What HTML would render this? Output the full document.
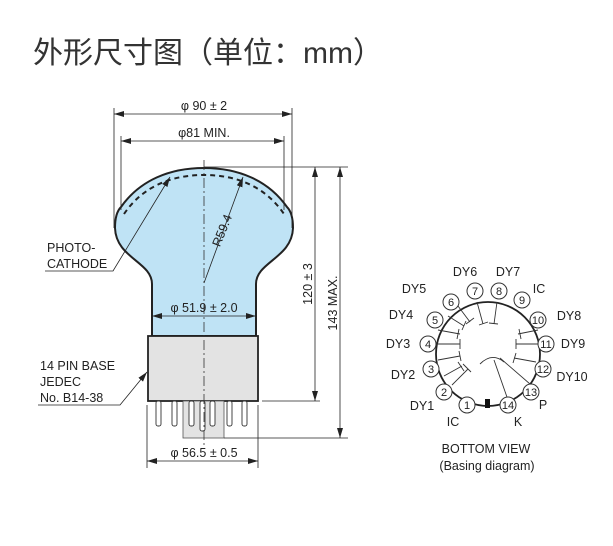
<!DOCTYPE html>
<html><head><meta charset="utf-8"><style>
body{margin:0;background:#fff;}
svg text{font-family:"Liberation Sans",Arial,sans-serif;fill:#222;}
</style></head><body>
<svg width="613" height="541" viewBox="0 0 613 541" xmlns="http://www.w3.org/2000/svg">
<defs>
<marker id="a" viewBox="0 0 10 6" refX="10" refY="3" markerWidth="10" markerHeight="6" orient="auto-start-reverse" markerUnits="userSpaceOnUse"><path d="M0,0 L10,3 L0,6 Z" fill="#222"/></marker>
</defs>
<text x="33" y="63" style="font-family:'Liberation Sans','Noto Sans CJK SC',sans-serif;font-size:30px;fill:#333">外形尺寸图（单位：mm）</text>

<!-- bulb -->
<path d="M152,336 L152,284 C152,262 116,258 115,228 Q115,213 121,207 C140,180 170,168 204,168 C238,168 268,180 287,207 Q293,213 293,228 C292,258 256,262 256,284 L256,336 Z" fill="#bfe3f5" stroke="#222" stroke-width="2"/>
<path d="M124,214 C143,186 172,175 204,175 C236,175 265,186 284,214" fill="none" stroke="#222" stroke-width="2" stroke-dasharray="5,4"/>
<!-- base -->
<rect x="148" y="336" width="110" height="65" fill="#e3e3e3" stroke="#222" stroke-width="1.8"/>
<rect x="183" y="401" width="41" height="37" fill="#e3e3e3" stroke="#555" stroke-width="0.8"/>
<g fill="#fff" stroke="#333" stroke-width="0.9">
<rect x="156" y="401" width="5" height="25" rx="2"/><rect x="172" y="401" width="5" height="25" rx="2"/>
<rect x="189" y="401" width="5" height="25" rx="2"/><rect x="200" y="401" width="5" height="30" rx="2"/>
<rect x="210" y="401" width="5" height="25" rx="2"/><rect x="227" y="401" width="5" height="25" rx="2"/><rect x="242" y="401" width="5" height="25" rx="2"/>
</g>
<line x1="204" y1="160" x2="204" y2="445" stroke="#333" stroke-width="0.8" stroke-dasharray="10,3,2,3"/>

<!-- dims -->
<g stroke="#222" stroke-width="0.8" fill="none">
<line x1="114" y1="108" x2="114" y2="228"/><line x1="292" y1="108" x2="292" y2="228"/>
<line x1="114" y1="114" x2="292" y2="114" marker-start="url(#a)" marker-end="url(#a)"/>
<line x1="121" y1="136" x2="121" y2="210"/><line x1="284" y1="136" x2="284" y2="210"/>
<line x1="121" y1="141" x2="284" y2="141" marker-start="url(#a)" marker-end="url(#a)"/>
<line x1="204" y1="167" x2="348" y2="167"/>
<line x1="262" y1="401" x2="320" y2="401"/>
<line x1="224" y1="438" x2="348" y2="438"/>
<line x1="315" y1="167" x2="315" y2="401" marker-start="url(#a)" marker-end="url(#a)"/>
<line x1="340" y1="167" x2="340" y2="438" marker-start="url(#a)" marker-end="url(#a)"/>
<line x1="152" y1="316" x2="256" y2="316" marker-start="url(#a)" marker-end="url(#a)"/>
<line x1="147" y1="405" x2="147" y2="468"/><line x1="258" y1="405" x2="258" y2="468"/>
<line x1="147" y1="461" x2="258" y2="461" marker-start="url(#a)" marker-end="url(#a)"/>
<line x1="204" y1="283" x2="243" y2="177" marker-end="url(#a)"/>
<polyline points="45,271 113,271 170,177" marker-end="url(#a)"/>
<polyline points="38,405 120,405 147,372" marker-end="url(#a)"/>
</g>
<g font-size="12.5">
<text x="204" y="110" text-anchor="middle">φ 90 ± 2</text>
<text x="204" y="137" text-anchor="middle">φ81 MIN.</text>
<text x="204" y="312" text-anchor="middle">φ 51.9 ± 2.0</text>
<text x="204" y="457" text-anchor="middle">φ 56.5 ± 0.5</text>
<text transform="translate(226,232) rotate(-68)" text-anchor="middle">R59.4</text>
<text transform="translate(312,284) rotate(-90)" text-anchor="middle">120 ± 3</text>
<text transform="translate(337,303) rotate(-90)" text-anchor="middle">143 MAX.</text>
<text x="47" y="252">PHOTO-</text><text x="47" y="268">CATHODE</text>
<text x="40" y="370">14 PIN BASE</text><text x="40" y="386">JEDEC</text><text x="40" y="402">No. B14-38</text>
</g>

<!-- basing diagram -->
<circle cx="488" cy="354" r="52" fill="none" stroke="#222" stroke-width="1.8"/>
<rect x="485" y="399" width="5" height="9" fill="#111"/>
<g stroke="#333" stroke-width="0.9" fill="none">
<path d="M436,344 h24 M460,339 v10"/>
<path d="M438,330 l22,4 M459,329 l-2,10"/>
<path d="M448,316 l16,10 M466,321 l-4,9"/>
<path d="M458,306 l12,16 M474,318 l-8,6"/>
<path d="M477,302 l6,22 M488,322 l-9,3"/>
<path d="M497,302 l-3,22 M498,324 l-9,-1"/>
<path d="M438,360 l22,-4 M459,351 l2,10"/>
<path d="M444,376 l18,-10 M458,362 l6,9"/>
<path d="M452,385 l16,-16 M463,364 l8,8"/>
<path d="M538,330 l-20,4 M519,329 l2,10"/>
<path d="M540,344 h-24 M516,339 v10"/>
<path d="M536,362 l-22,-4 M516,353 l-3,10"/>
<path d="M530,384 l-30,-26"/>
<path d="M508,400 l-14,-40 M480,364 q12,-12 24,-2"/>
</g>
<g fill="#fff" stroke="#333" stroke-width="1">
<circle cx="467" cy="405" r="8"/><circle cx="444" cy="392" r="8"/><circle cx="431" cy="369" r="8"/>
<circle cx="428" cy="344" r="8"/><circle cx="435" cy="320" r="8"/><circle cx="451" cy="302" r="8"/>
<circle cx="475" cy="291" r="8"/><circle cx="499" cy="291" r="8"/><circle cx="522" cy="300" r="8"/>
<circle cx="538" cy="320" r="8"/><circle cx="546" cy="344" r="8"/><circle cx="543" cy="369" r="8"/>
<circle cx="531" cy="392" r="8"/><circle cx="508" cy="405" r="8"/>
</g>
<g font-size="11" text-anchor="middle">
<text x="467" y="409">1</text><text x="444" y="396">2</text><text x="431" y="373">3</text>
<text x="428" y="348">4</text><text x="435" y="324">5</text><text x="451" y="306">6</text>
<text x="475" y="295">7</text><text x="499" y="295">8</text><text x="522" y="304">9</text>
<text x="538" y="324">10</text><text x="546" y="348">11</text><text x="543" y="373">12</text>
<text x="531" y="396">13</text><text x="508" y="409">14</text>
</g>
<g font-size="12.5" text-anchor="middle">
<text x="465" y="276">DY6</text><text x="508" y="276">DY7</text><text x="539" y="293">IC</text>
<text x="414" y="293">DY5</text><text x="401" y="319">DY4</text><text x="569" y="320">DY8</text>
<text x="398" y="348">DY3</text><text x="573" y="348">DY9</text><text x="403" y="379">DY2</text>
<text x="572" y="381">DY10</text><text x="422" y="410">DY1</text><text x="543" y="409">P</text>
<text x="453" y="426">IC</text><text x="518" y="426">K</text>
<text x="486" y="453">BOTTOM VIEW</text><text x="487" y="470">(Basing diagram)</text>
</g>
</svg>
</body></html>
